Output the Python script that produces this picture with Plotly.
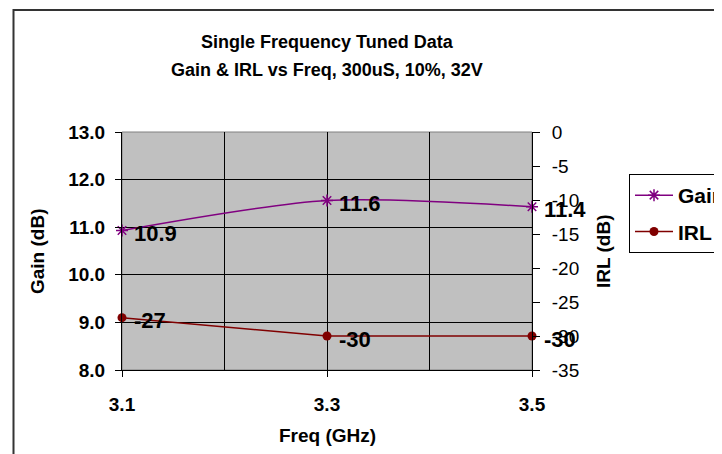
import plotly.graph_objects as go

# ---- data ----
freq = [3.1, 3.3, 3.5]
gain = [10.93, 11.56, 11.43]
gain_labels = ["10.9", "11.6", "11.4"]
irl = [-27.3, -30.0, -30.0]
irl_labels = ["-27", "-30", "-30"]
x_ticks = [3.1, 3.3, 3.5]
x_ticktext = ["3.1", "3.3", "3.5"]
x_minor = [3.2, 3.4]
gain_ticks = [8, 9, 10, 11, 12, 13]
irl_ticks = [0, -5, -10, -15, -20, -25, -30, -35]
irl_ticktext = ["0", "-5", "-10", "-15", "-20", "-25", "-30", "-35"]

OFF = 8  # page body margin
W, H = 722, 454
L, T, PW, PH = 114, 124, 410, 238
R, B = W - L - PW, H - T - PH
FONT = "Arial, Liberation Sans, sans-serif"


def px(x):
    return (x - OFF - L) / PW


def py(y):
    return (H - B - (y - OFF)) / PH


fig = go.Figure()
fig.add_trace(go.Scatter(
    x=freq, y=gain, name="<b>Gain</b>", mode="lines+markers", legendgroup="g",
    line=dict(color="#800080", width=1.5, shape="spline", smoothing=0.8),
    marker=dict(symbol="asterisk-open", size=10, color="#800080",
                line=dict(color="#800080", width=1.5)),
    yaxis="y", cliponaxis=False,
))
fig.add_trace(go.Scatter(
    x=freq, y=irl, name="<b>IRL</b>", mode="lines+markers", legendgroup="i",
    line=dict(color="#800000", width=1.5),
    marker=dict(symbol="circle", size=9, color="#800000"),
    yaxis="y2", cliponaxis=False,
))

annotations = [
    dict(text="<b>Single Frequency Tuned Data</b>", xref="paper", yref="paper",
         x=0.5, y=py(42), xanchor="center", yanchor="middle", showarrow=False,
         font=dict(family=FONT, size=18, color="black")),
    dict(text="<b>Gain & IRL vs Freq, 300uS, 10%, 32V</b>", xref="paper", yref="paper",
         x=0.5, y=py(70), xanchor="center", yanchor="middle", showarrow=False,
         font=dict(family=FONT, size=18, color="black")),
    dict(text="<b>Gain (dB)</b>", xref="paper", yref="paper", x=px(37), y=py(251),
         textangle=-90, xanchor="center", yanchor="middle", showarrow=False,
         font=dict(family=FONT, size=19, color="black")),
    dict(text="<b>IRL (dB)</b>", xref="paper", yref="paper", x=px(603), y=py(251),
         textangle=-90, xanchor="center", yanchor="middle", showarrow=False,
         font=dict(family=FONT, size=19, color="black")),
    dict(text="<b>Freq (GHz)</b>", xref="paper", yref="paper", x=0.5, y=py(435),
         xanchor="center", yanchor="middle", showarrow=False,
         font=dict(family=FONT, size=19, color="black")),
]
for xv, yv, lab in zip(freq, gain, gain_labels):
    annotations.append(dict(text="<b>%s</b>" % lab, x=xv, y=yv, xref="x", yref="y",
                            xanchor="left", yanchor="middle", xshift=10, yshift=-3,
                            showarrow=False, font=dict(family=FONT, size=22, color="black")))
for xv, yv, lab in zip(freq, irl, irl_labels):
    annotations.append(dict(text="<b>%s</b>" % lab, x=xv, y=yv, xref="x", yref="y2",
                            xanchor="left", yanchor="middle", xshift=10, yshift=-3,
                            showarrow=False, font=dict(family=FONT, size=22, color="black")))

shapes = [
    dict(type="rect", xref="paper", yref="paper", x0=0, x1=1, y0=0, y1=1,
         line=dict(color="#808080", width=1), layer="below"),
    dict(type="rect", xref="paper", yref="paper",
         x0=px(13.5), x1=px(760), y0=py(10), y1=py(480),
         line=dict(color="#333333", width=2)),
    dict(type="line", xref="paper", yref="paper",
         x0=px(3), x1=px(3), y0=py(10), y1=py(480),
         line=dict(color="#333333", width=2)),
    dict(type="line", xref="paper", yref="paper",
         x0=px(-20), x1=px(3), y0=py(10), y1=py(10),
         line=dict(color="#333333", width=2)),
]

fig.update_layout(
    width=W, height=H,
    margin=dict(l=L, r=R, t=T, b=B, autoexpand=False),
    paper_bgcolor="white", plot_bgcolor="#C0C0C0",
    font=dict(family=FONT, size=16, color="black"),
    showlegend=True,
    legend=dict(x=px(629), y=py(174), xanchor="left", yanchor="top",
                bordercolor="black", borderwidth=1, bgcolor="white",
                font=dict(family=FONT, size=21, color="black"),
                itemwidth=38, tracegroupgap=6, traceorder="grouped"),
    xaxis=dict(
        range=[3.1, 3.5], tickvals=x_ticks, ticktext=x_ticktext,
        ticks="outside", ticklen=6, tickcolor="black", ticklabelstandoff=11,
        showline=True, linecolor="black", linewidth=1,
        showgrid=True, gridcolor="black", gridwidth=1,
        minor=dict(tickvals=x_minor, showgrid=True, gridcolor="black",
                   gridwidth=1, ticks=""),
        tickfont=dict(family=FONT, size=19, weight="bold"),
        zeroline=False,
    ),
    yaxis=dict(
        range=[8, 13], tickvals=gain_ticks, tickformat=".1f",
        ticks="outside", ticklen=6, tickcolor="black", ticklabelstandoff=6,
        showline=True, linecolor="black", linewidth=1,
        showgrid=True, gridcolor="black", gridwidth=1,
        tickfont=dict(family=FONT, size=19, weight="bold"),
        zeroline=False,
    ),
    yaxis2=dict(
        range=[-35, 0], tickvals=irl_ticks, ticktext=irl_ticktext,
        overlaying="y", side="right",
        ticks="outside", ticklen=7, tickcolor="black", ticklabelstandoff=8,
        showline=True, linecolor="black", linewidth=1,
        showgrid=False, zeroline=False,
        tickfont=dict(family=FONT, size=19),
    ),
    shapes=shapes,
    annotations=annotations,
)

fig.write_html("out.html")
